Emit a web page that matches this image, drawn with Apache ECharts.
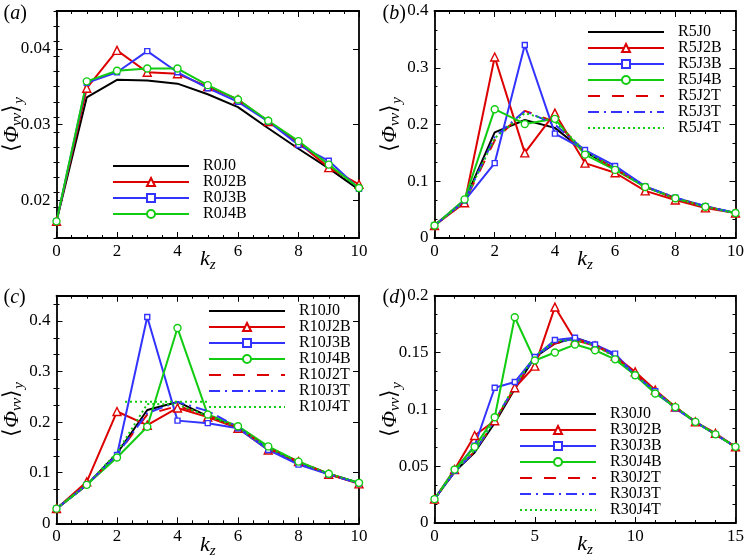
<!DOCTYPE html>
<html><head><meta charset="utf-8">
<script src="https://cdn.jsdelivr.net/npm/echarts@6/dist/echarts.min.js"></script>
<style>html,body{margin:0;padding:0;background:#fff}#c{width:747px;height:560px}</style>
</head><body><div id="c"></div>
<script>
// ---------- data ----------
const kz10 = [0, 1, 2, 3, 4, 5, 6, 7, 8, 9, 10];
const kz15 = [0, 1, 2, 3, 4, 5, 6, 7, 8, 9, 10, 11, 12, 13, 14, 15];

// panel (a)
const R0J0  = [0.0172, 0.0336, 0.0359, 0.0358, 0.0354, 0.0340, 0.0323, 0.0295, 0.0268, 0.0242, 0.0214];
const R0J2B = [0.0172, 0.0348, 0.0398, 0.0369, 0.0367, 0.0350, 0.0333, 0.0304, 0.0276, 0.0243, 0.0221];
const R0J3B = [0.0172, 0.0355, 0.0369, 0.0397, 0.0369, 0.0348, 0.0330, 0.0304, 0.0273, 0.0252, 0.0215];
const R0J4B = [0.0172, 0.0357, 0.0371, 0.0374, 0.0374, 0.0352, 0.0333, 0.0305, 0.0278, 0.0247, 0.0216];

// panel (b)
const R5J0  = [0.022, 0.066, 0.186, 0.208, 0.194, 0.152, 0.122, 0.090, 0.070, 0.055, 0.044];
const R5J2B = [0.022, 0.062, 0.319, 0.150, 0.220, 0.132, 0.115, 0.083, 0.067, 0.053, 0.044];
const R5J3B = [0.022, 0.066, 0.132, 0.340, 0.184, 0.155, 0.127, 0.091, 0.071, 0.056, 0.044];
const R5J4B = [0.022, 0.068, 0.227, 0.201, 0.210, 0.147, 0.120, 0.090, 0.070, 0.055, 0.044];
const R5J2T = [0.022, 0.064, 0.172, 0.224, 0.205, 0.152, 0.122, 0.090, 0.070, 0.055, 0.044];
const R5J3T = [0.022, 0.065, 0.178, 0.224, 0.200, 0.154, 0.125, 0.091, 0.071, 0.056, 0.044];
const R5J4T = [0.022, 0.065, 0.176, 0.220, 0.205, 0.153, 0.122, 0.090, 0.070, 0.055, 0.044];

// panel (c)
const R10J0  = [0.029, 0.076, 0.138, 0.224, 0.240, 0.212, 0.191, 0.147, 0.120, 0.098, 0.080];
const R10J2B = [0.029, 0.082, 0.221, 0.194, 0.228, 0.210, 0.188, 0.145, 0.122, 0.097, 0.078];
const R10J3B = [0.029, 0.076, 0.135, 0.408, 0.203, 0.198, 0.188, 0.145, 0.116, 0.097, 0.079];
const R10J4B = [0.029, 0.076, 0.130, 0.191, 0.386, 0.215, 0.192, 0.152, 0.122, 0.098, 0.080];
const R10J2T = [0.029, 0.076, 0.136, 0.215, 0.232, 0.213, 0.190, 0.148, 0.122, 0.097, 0.079];
const R10J3T = [0.029, 0.076, 0.136, 0.218, 0.240, 0.222, 0.190, 0.146, 0.118, 0.097, 0.079];
const R10J4T = [0.029, 0.076, 0.140, 0.236, 0.235, 0.212, 0.190, 0.148, 0.122, 0.098, 0.080];

// panel (d)
const R30J0  = [0.021, 0.045, 0.062, 0.088, 0.118, 0.146, 0.158, 0.163, 0.157, 0.147, 0.131, 0.116, 0.102, 0.089, 0.078, 0.067];
const R30J2B = [0.021, 0.047, 0.077, 0.090, 0.119, 0.138, 0.190, 0.161, 0.156, 0.147, 0.133, 0.117, 0.102, 0.089, 0.079, 0.067];
const R30J3B = [0.021, 0.046, 0.068, 0.119, 0.124, 0.146, 0.161, 0.163, 0.157, 0.149, 0.130, 0.116, 0.101, 0.089, 0.078, 0.067];
const R30J4B = [0.021, 0.047, 0.067, 0.093, 0.181, 0.143, 0.150, 0.157, 0.152, 0.144, 0.130, 0.114, 0.102, 0.089, 0.078, 0.067];
const R30J2T = [0.021, 0.045, 0.063, 0.089, 0.119, 0.145, 0.158, 0.162, 0.157, 0.147, 0.131, 0.116, 0.102, 0.089, 0.078, 0.067];
const R30J3T = [0.021, 0.045, 0.063, 0.090, 0.120, 0.146, 0.159, 0.162, 0.157, 0.147, 0.130, 0.116, 0.101, 0.089, 0.078, 0.067];
const R30J4T = [0.021, 0.046, 0.064, 0.090, 0.121, 0.147, 0.160, 0.161, 0.156, 0.146, 0.130, 0.116, 0.102, 0.089, 0.078, 0.067];

// tick labels
const yTicksA = [0.02, 0.03, 0.04];
const yTicksC = [0, 0.1, 0.2, 0.3, 0.4];

// ---------- styling ----------
const FONT = 'Liberation Serif';
const RED = '#dd0000', BLUE = '#3333ff', GREEN = '#11cc11', BLACK = '#000000';
const NONE = 'rgba(0,0,0,0)';
const kinds = {
  J0:  {color: BLACK, symbol: 'none', size: 0, type: 'solid'},
  J2B: {color: RED, symbol: 'triangle', size: 8, type: 'solid'},
  J3B: {color: BLUE, symbol: 'rect', size: 5, type: 'solid'},
  J4B: {color: GREEN, symbol: 'circle', size: 7, type: 'solid'},
  J2T: {color: RED, symbol: 'none', size: 0, type: [12, 12]},
  J3T: {color: BLUE, symbol: 'none', size: 0, type: [11, 5, 2, 5]},
  J4T: {color: GREEN, symbol: 'none', size: 0, type: [2, 3]}
};

const panels = [
  {label: 'a', grid: {left: 55.5, top: 11, width: 303.5, height: 227}, xs: kz10, xmax: 10, xint: 2, xminor: 4,
   ymin: 0.015, ymax: 0.045, yMajor: yTicksA, yMinorStep: 0.002,
   series: [['R0J0', R0J0, 'J0'], ['R0J2B', R0J2B, 'J2B'], ['R0J3B', R0J3B, 'J3B'], ['R0J4B', R0J4B, 'J4B']],
   legend: {left: 112, top: 158}},
  {label: 'b', grid: {left: 434.5, top: 11, width: 303.5, height: 227}, xs: kz10, xmax: 10, xint: 2, xminor: 4,
   ymin: 0, ymax: 0.4, yint: 0.1, yminor: 3,
   series: [['R5J0', R5J0, 'J0'], ['R5J2B', R5J2B, 'J2B'], ['R5J3B', R5J3B, 'J3B'], ['R5J4B', R5J4B, 'J4B'],
            ['R5J2T', R5J2T, 'J2T'], ['R5J3T', R5J3T, 'J3T'], ['R5J4T', R5J4T, 'J4T']],
   legend: {left: 587, top: 24}},
  {label: 'c', grid: {left: 55.5, top: 295.7, width: 303.5, height: 227.6}, xs: kz10, xmax: 10, xint: 2, xminor: 4,
   ymin: 0, ymax: 0.45, yMajor: yTicksC, yMinorStep: 0.1 / 3,
   series: [['R10J0', R10J0, 'J0'], ['R10J2B', R10J2B, 'J2B'], ['R10J3B', R10J3B, 'J3B'], ['R10J4B', R10J4B, 'J4B'],
            ['R10J2T', R10J2T, 'J2T'], ['R10J3T', R10J3T, 'J3T'], ['R10J4T', R10J4T, 'J4T']],
   legend: {left: 208, top: 303}, extendLast: 125},
  {label: 'd', grid: {left: 434.5, top: 295.7, width: 303.5, height: 227.3}, xs: kz15, xmax: 15, xint: 5, xminor: 5,
   ymin: 0, ymax: 0.2, yint: 0.05, yminor: 3,
   series: [['R30J0', R30J0, 'J0'], ['R30J2B', R30J2B, 'J2B'], ['R30J3B', R30J3B, 'J3B'], ['R30J4B', R30J4B, 'J4B'],
            ['R30J2T', R30J2T, 'J2T'], ['R30J3T', R30J3T, 'J3T'], ['R30J4T', R30J4T, 'J4T']],
   legend: {left: 519, top: 406}}
];

const axisLineS = {onZero: false, lineStyle: {color: '#000', width: 1.8}};
const tickS = {inside: true, length: 6, lineStyle: {color: '#000', width: 1}};
const minorS = {inside: true, length: 3, lineStyle: {color: '#000', width: 1}};
const labelS = {fontFamily: FONT, fontSize: 17, color: '#000'};
const ROW = 15.2;

const grids = [], xAxes = [], yAxes = [], series = [], legends = [], graphics = [];

panels.forEach((p, gi) => {
  grids.push(p.grid);
  const xBase = {gridIndex: gi, type: 'value', min: 0, max: p.xmax, interval: p.xint,
    axisLine: axisLineS, axisTick: tickS,
    minorTick: {show: true, splitNumber: p.xminor, length: 3, lineStyle: {color: '#000', width: 1}},
    splitLine: {show: false}, minorSplitLine: {show: false}};
  const xi = xAxes.length;
  xAxes.push(Object.assign({}, xBase, {position: 'bottom', axisLabel: Object.assign({margin: 5}, labelS),
    name: '{k|k}{s|z}', nameLocation: 'middle', nameGap: 8, nameMoveOverlap: false,
    nameTextStyle: {rich: {
      k: {fontFamily: FONT, fontStyle: 'italic', fontSize: 22, color: '#000'},
      s: {fontFamily: FONT, fontStyle: 'italic', fontSize: 15, color: '#000', padding: [12, 0, 0, 0]}}}}));
  xAxes.push(Object.assign({}, xBase, {position: 'top', axisLabel: {show: false}}));

  const yi = yAxes.length;
  const yName = {name: '{a|\u27E8}{p|\u03A6}{s|vv}{a|\u27E9}{t|y}', nameLocation: 'middle', nameGap: 30,
    nameRotate: 90, nameMoveOverlap: false,
    nameTextStyle: {rich: {
      a: {fontFamily: FONT, fontSize: 22, color: '#000'},
      p: {fontFamily: FONT, fontStyle: 'italic', fontSize: 22, color: '#000'},
      s: {fontFamily: FONT, fontStyle: 'italic', fontSize: 15, color: '#000', padding: [10, 0, 0, 0]},
      t: {fontFamily: FONT, fontStyle: 'italic', fontSize: 15, color: '#000', padding: [14, 0, 0, 0]}}}};
  if (p.yMajor) {
    const minorVals = [];
    for (let v = p.ymin; v <= p.ymax + 1e-9; v += p.yMinorStep) {
      const r = Math.round(v * 1e6) / 1e6;
      if (!p.yMajor.some(m => Math.abs(m - r) < 1e-6)) minorVals.push(r);
    }
    const yBase = {gridIndex: gi, type: 'value', min: p.ymin, max: p.ymax, splitLine: {show: false}};
    yAxes.push(Object.assign({}, yBase, yName, {position: 'left', axisLine: axisLineS,
      axisTick: Object.assign({customValues: p.yMajor}, tickS),
      axisLabel: Object.assign({customValues: p.yMajor, margin: 6}, labelS)}));
    yAxes.push(Object.assign({}, yBase, {position: 'right', axisLine: axisLineS,
      axisTick: Object.assign({customValues: p.yMajor}, tickS), axisLabel: {show: false}}));
    yAxes.push(Object.assign({}, yBase, {position: 'left', axisLine: {show: false},
      axisTick: Object.assign({customValues: minorVals}, minorS), axisLabel: {show: false}}));
    yAxes.push(Object.assign({}, yBase, {position: 'right', axisLine: {show: false},
      axisTick: Object.assign({customValues: minorVals}, minorS), axisLabel: {show: false}}));
  } else {
    const yBase = {gridIndex: gi, type: 'value', min: p.ymin, max: p.ymax, interval: p.yint,
      axisLine: axisLineS, axisTick: tickS,
      minorTick: {show: true, splitNumber: p.yminor, length: 3, lineStyle: {color: '#000', width: 1}},
      splitLine: {show: false}, minorSplitLine: {show: false}};
    yAxes.push(Object.assign({}, yBase, yName, {position: 'left', axisLabel: Object.assign({margin: 6}, labelS)}));
    yAxes.push(Object.assign({}, yBase, {position: 'right', axisLabel: {show: false}}));
  }

  p.series.forEach(([name, vals, kind]) => {
    const k = kinds[kind];
    const hasSym = k.symbol !== 'none';
    series.push({
      name, type: 'line', xAxisIndex: xi, yAxisIndex: yi,
      data: p.xs.map((x, i) => [x, vals[i]]),
      symbol: k.symbol, symbolSize: k.size, showSymbol: hasSym,
      lineStyle: {color: k.color, width: 2, type: k.type},
      itemStyle: hasSym ? {color: '#fff', borderColor: k.color, borderWidth: 1.4}
                        : {color: NONE, borderColor: NONE, borderWidth: 0},
      emphasis: {disabled: true}, z: 3
    });
  });

  legends.push({
    data: p.series.map(s => s[0]), orient: 'vertical', left: p.legend.left, top: p.legend.top,
    itemWidth: 76, itemHeight: 10, itemGap: 0, selectedMode: false, padding: 0,
    textStyle: {fontFamily: FONT, fontSize: 16, color: '#000', lineHeight: ROW, padding: [0, 0, 0, 9]}
  });

  if (p.extendLast) {
    // the last legend sample line in this panel is drawn longer, extending to the left
    const last = p.series[p.series.length - 1];
    const k = kinds[last[2]];
    const yRow = p.legend.top + (p.series.length - 1) * ROW + ROW / 2;
    graphics.push({type: 'line', z: 10,
      shape: {x1: p.extendLast, y1: yRow, x2: p.legend.left, y2: yRow},
      style: {stroke: k.color, lineWidth: 2, lineDash: k.type}});
  }

  graphics.push({type: 'text', left: p.grid.left - 52, top: p.grid.top - (gi >= 2 ? 8 : 7.5),
    style: {text: '{n|(}{i|' + p.label + '}{n|)}', rich: {
      n: {fontFamily: FONT, fontSize: 20, fill: '#000'},
      i: {fontFamily: FONT, fontStyle: 'italic', fontSize: 20, fill: '#000'}}}});
});

const chart = echarts.init(document.getElementById('c'), null, {renderer: 'canvas'});
chart.setOption({
  animation: false, backgroundColor: '#fff',
  grid: grids, xAxis: xAxes, yAxis: yAxes, series, legend: legends, graphic: graphics
});
</script></body></html>
